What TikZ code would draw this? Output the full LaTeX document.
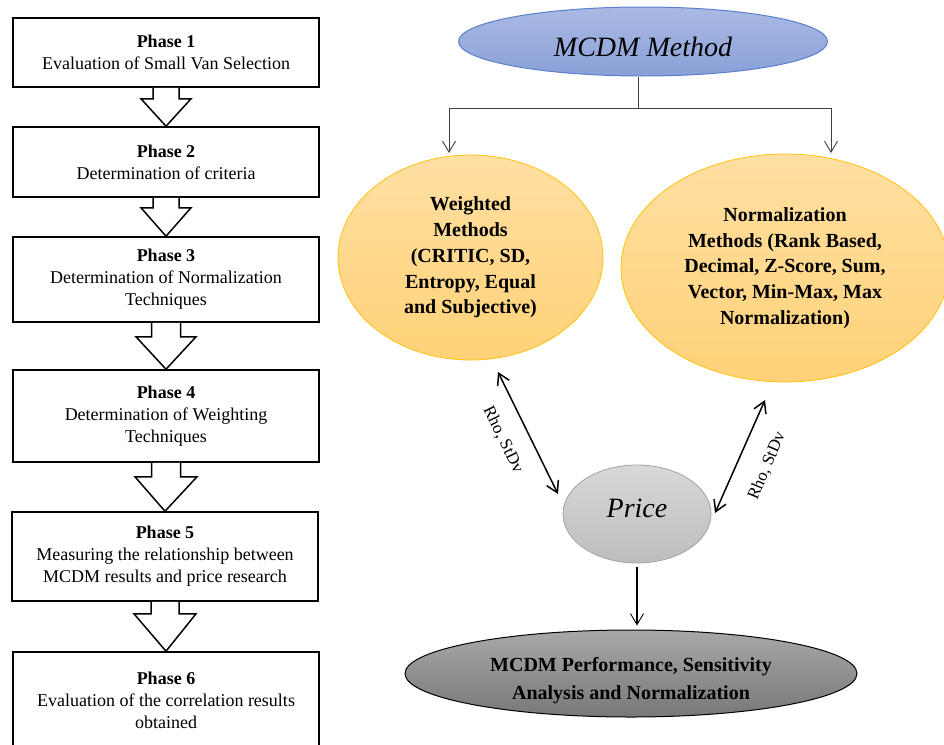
\documentclass[tikz,border=0pt]{standalone}
\usepackage{fontspec}
\setmainfont{Liberation Serif}
\usetikzlibrary{shapes.geometric,arrows.meta,calc}
\definecolor{blueTop}{HTML}{AABAE4}
\definecolor{blueBot}{HTML}{8AA0D8}
\definecolor{blueBorder}{HTML}{5A80CC}
\definecolor{orTop}{HTML}{FFDFA2}
\definecolor{orBot}{HTML}{FFD278}
\definecolor{orBorder}{HTML}{FFC20E}
\definecolor{prTop}{HTML}{D8D8D8}
\definecolor{prBot}{HTML}{BDBDBD}
\definecolor{prBorder}{HTML}{A3A3A3}
\definecolor{pfTop}{HTML}{A8A8A8}
\definecolor{pfBot}{HTML}{787878}
\newcommand\blkarrow[5]{%
  \draw[blockarrow] ($(#1.south)+(-#3,0)$) -- ++(0,#5) -- ++(#3-#4,0) -- (#2.north)
    -- ($(#1.south)+(#4,#5)$) -- ++(#3-#4,0) -- ($(#1.south)+(#3,0)$);}
\begin{document}
\begin{tikzpicture}[x=1pt,y=-1pt,
  phasebox/.style={draw=black, line width=1.6pt, fill=white, minimum width=306pt,
    align=center, inner sep=0pt, font=\fontsize{18}{22}\selectfont},
  blockarrow/.style={draw=black, line width=1.5pt, fill=white, line join=miter},
  ell/.style={ellipse, inner sep=0pt, align=center},
  boldtext/.style={font=\fontsize{20}{25.7}\selectfont\bfseries},
  treeline/.style={draw=black!75, line width=0.9pt},
  openarrow/.style={-{Straight Barb[length=11pt,width=13pt,line width=0.9pt]}},
  dblarrow/.style={draw=black, line width=1.5pt,
    {Straight Barb[length=11pt,width=13pt]}-{Straight Barb[length=11pt,width=13pt]}},
  rholabel/.style={font=\fontsize{17}{18}\selectfont, inner sep=0pt}
]
\useasboundingbox (0,0) rectangle (944,744);
\clip (0,0) rectangle (944,744);

% ---------- left column ----------
\node[phasebox, minimum height=69pt] (p1) at (166,52.5)
  {\textbf{Phase 1}\\Evaluation of Small Van Selection};
\node[phasebox, minimum height=70pt] (p2) at (166,162)
  {\textbf{Phase 2}\\Determination of criteria};
\node[phasebox, minimum height=85pt] (p3) at (166,279.5)
  {\textbf{Phase 3}\\Determination of Normalization\\Techniques};
\node[phasebox, minimum height=92pt] (p4) at (166,416)
  {\textbf{Phase 4}\\Determination of Weighting\\Techniques};
\node[phasebox, minimum height=89pt] (p5) at (165,556.5)
  {\textbf{Phase 5}\\Measuring the relationship between\\MCDM results and price research};
\node[phasebox, minimum height=96pt] (p6) at (166,700)
  {\textbf{Phase 6}\\Evaluation of the correlation results\\obtained};

\blkarrow{p1}{p2}{13}{25}{11}
\blkarrow{p2}{p3}{13}{25}{10}
\blkarrow{p3}{p4}{14.5}{30}{14}
\blkarrow{p4}{p5}{14.5}{31}{14}
\blkarrow{p5}{p6}{14}{31}{12}

% ---------- right part ----------
\node[ell, minimum width=369pt, minimum height=69pt, draw=blueBorder, line width=1pt,
  top color=blueTop, bottom color=blueBot,
  label={[name=mcdmlab, font=\fontsize{28}{32}\selectfont\itshape, yshift=-5pt]center:MCDM Method}]
  (mcdm) at (643,41.5) {};

\node[ell, minimum width=265pt, minimum height=205pt, draw=orBorder, line width=0.8pt,
  top color=orTop, bottom color=orBot, boldtext]
  (wm) at (470.5,257.5) {Weighted\\Methods\\(CRITIC, SD,\\Entropy, Equal\\and Subjective)};

\node[ell, minimum width=328pt, minimum height=228pt, draw=orBorder, line width=0.8pt,
  top color=orTop, bottom color=orBot, boldtext]
  (nm) at (785,268) {Normalization\\Methods (Rank Based,\\Decimal, Z-Score, Sum,\\Vector, Min-Max, Max\\Normalization)};

\node[ell, minimum width=148pt, minimum height=98pt, draw=prBorder, line width=0.8pt,
  top color=prTop, bottom color=prBot,
  label={[name=pricelab, font=\fontsize{28}{32}\selectfont\itshape, yshift=6pt]center:Price}]
  (price) at (637,514) {};

\node[ell, minimum width=452pt, minimum height=87pt, draw=black, line width=1pt,
  top color=pfTop, bottom color=pfBot,
  label={[name=perflab, align=center, font=\fontsize{20}{28}\selectfont\bfseries, yshift=-7pt]center:MCDM Performance, Sensitivity\\Analysis and Normalization}]
  (perf) at (631,673.5) {};

% tree from MCDM Method
\coordinate (jM) at (638,108);
\coordinate (jL) at (449,108);
\coordinate (jR) at (831,108);
\coordinate (eL) at (449,153);
\coordinate (eR) at (831,153);
\draw[treeline] (jM |- mcdm.south) -- (jM);
\draw[treeline] (jL) -- (jR);
\draw[treeline, openarrow] (jL) -- (eL);
\draw[treeline, openarrow] (jR) -- (eR);

% double arrows
\coordinate (aL1) at (498,372);
\coordinate (aL2) at (558,494);
\coordinate (aR1) at (765,400);
\coordinate (aR2) at (715,513);
\draw[dblarrow] (aL1) -- (aL2);
\draw[dblarrow] (aR1) -- (aR2);
\node[rholabel, rotate=-64] (rhoL) at (503,440) {Rho, StDv};
\node[rholabel, rotate=67] (rhoR) at (767,466) {Rho, StDv};

% price to performance
\coordinate (pa1) at ([yshift=-4pt]price.south);
\coordinate (pa2) at ([yshift=4pt]price.south |- perf.north);
\draw[draw=black, line width=1.2pt, openarrow] (pa1) -- (pa2);
\end{tikzpicture}
\end{document}
